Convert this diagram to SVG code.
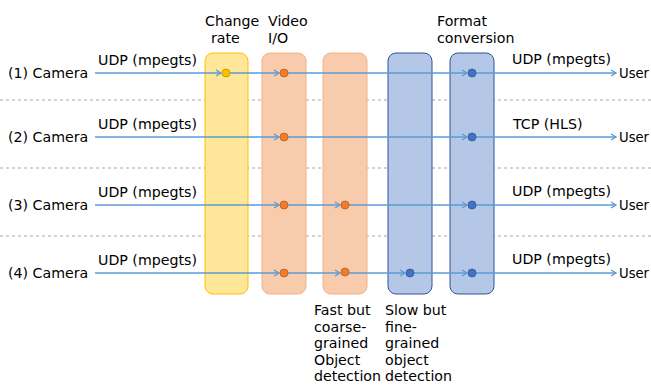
<svg xmlns="http://www.w3.org/2000/svg" width="651" height="388" viewBox="0 0 651 388">
<defs>
<marker id="arr" markerWidth="8" markerHeight="8" refX="6" refY="4" orient="auto" markerUnits="userSpaceOnUse">
<path d="M1,1 L6,4 L1,7" fill="none" stroke="#5B9BD5" stroke-width="1.3"/>
</marker>
</defs>
<style>
text{font-family:"DejaVu Sans","Liberation Sans",sans-serif;font-size:14.2px;fill:#000}
.y{fill:#FFE699;stroke:#FFC000;stroke-width:1}
.o{fill:#F8CBAD;stroke:#F4B183;stroke-width:1}
.b{fill:#B4C7E7;stroke:#2F5597;stroke-width:1}
.sep{stroke:#A6A6A6;stroke-width:1;stroke-dasharray:3,3}
.ln{stroke:#5B9BD5;stroke-width:1.3;fill:none;marker-end:url(#arr)}
.dy{fill:#FFC000;stroke:#BF9000;stroke-width:0.8}
.do{fill:#ED7D31;stroke:#C55A11;stroke-width:0.8}
.db{fill:#4472C4;stroke:#2F5597;stroke-width:0.8}
</style>
<g id="separators">
<line class="sep" x1="0" y1="100" x2="651" y2="100"/>
<line class="sep" x1="0" y1="168" x2="651" y2="168"/>
<line class="sep" x1="0" y1="236" x2="651" y2="236"/>
</g>
<g id="change-rate"><rect class="y" x="205" y="53" width="43" height="241" rx="8"/><text x="205" y="26">Change</text><text x="211" y="43">rate</text></g>
<g id="video-io"><rect class="o" x="262" y="53" width="44" height="241" rx="8"/><text x="268" y="26">Video</text><text x="268" y="43">I/O</text></g>
<g id="fast-detect"><rect class="o" x="323" y="53" width="44" height="241" rx="8"/><text x="314" y="315">Fast but</text><text x="314" y="332">coarse-</text><text x="314" y="348">grained</text><text x="314" y="365">Object</text><text x="314" y="381">detection</text></g>
<g id="slow-detect"><rect class="b" x="388" y="53" width="44" height="241" rx="8"/><text x="385" y="315">Slow but</text><text x="385" y="332">fine-</text><text x="385" y="348">grained</text><text x="385" y="365">object</text><text x="385" y="381">detection</text></g>
<g id="format-conv"><rect class="b" x="450" y="53" width="44" height="241" rx="8"/><text x="437" y="26">Format</text><text x="437" y="43">conversion</text></g>
<g id="connectors">
<path class="ln" d="M95,73 H221"/><path class="ln" d="M230,73 H279"/><path class="ln" d="M288,73 H467"/><path class="ln" d="M476,73 H616"/>
<path class="ln" d="M95,137 H279"/><path class="ln" d="M288,137 H467"/><path class="ln" d="M476,137 H616"/>
<path class="ln" d="M95,205 H279"/><path class="ln" d="M288,205 H340"/><path class="ln" d="M349,205 H467"/><path class="ln" d="M476,205 H616"/>
<path class="ln" d="M95,273 H279"/><path class="ln" d="M288,273 H340"/><path class="ln" d="M349,273 H405"/><path class="ln" d="M414,273 H467"/><path class="ln" d="M476,273 H616"/>
</g>
<g id="dots">
<circle class="dy" cx="226" cy="73" r="4"/><circle class="do" cx="284" cy="73" r="4"/><circle class="db" cx="472" cy="73" r="4"/>
<circle class="do" cx="284" cy="137" r="4"/><circle class="db" cx="472" cy="137" r="4"/>
<circle class="do" cx="284" cy="205" r="4"/><circle class="do" cx="345" cy="205" r="4"/><circle class="db" cx="472" cy="205" r="4"/>
<circle class="do" cx="284" cy="273" r="4"/><circle class="do" cx="345" cy="272" r="4"/><circle class="db" cx="410" cy="273" r="4"/><circle class="db" cx="472" cy="273" r="4"/>
</g>
<g id="cam1"><text x="8" y="78">(1) Camera</text><text x="98" y="65">UDP (mpegts)</text></g>
<g id="cam2"><text x="8" y="142">(2) Camera</text><text x="98" y="129">UDP (mpegts)</text></g>
<g id="cam3"><text x="8" y="210">(3) Camera</text><text x="98" y="197">UDP (mpegts)</text></g>
<g id="cam4"><text x="8" y="278">(4) Camera</text><text x="98" y="265">UDP (mpegts)</text></g>
<g id="user1"><text x="512" y="64">UDP (mpegts)</text><text x="619" y="78" textLength="30" lengthAdjust="spacingAndGlyphs">User</text></g>
<g id="user2"><text x="513" y="129">TCP (HLS)</text><text x="619" y="142" textLength="30" lengthAdjust="spacingAndGlyphs">User</text></g>
<g id="user3"><text x="512" y="196">UDP (mpegts)</text><text x="619" y="210" textLength="30" lengthAdjust="spacingAndGlyphs">User</text></g>
<g id="user4"><text x="512" y="264">UDP (mpegts)</text><text x="619" y="278" textLength="30" lengthAdjust="spacingAndGlyphs">User</text></g>
</svg>
